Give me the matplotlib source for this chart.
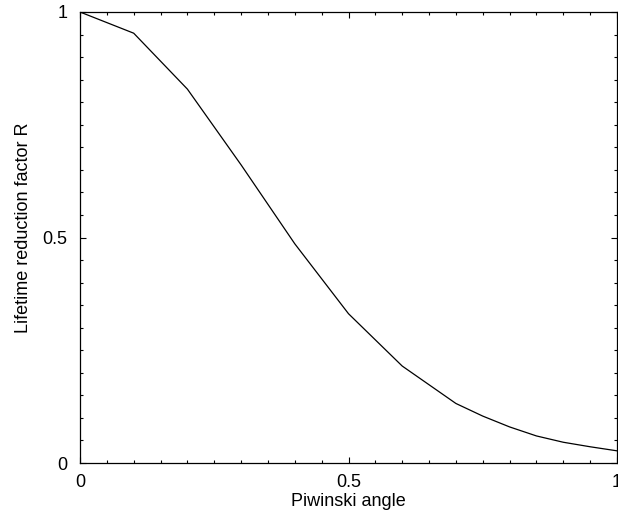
import matplotlib
matplotlib.use("Agg")
import matplotlib.pyplot as plt
from matplotlib.ticker import MultipleLocator

plt.rcParams['font.family'] = ['Liberation Sans', 'DejaVu Sans']

# Piwinski angle vs lifetime reduction factor R
angle = [0.0, 0.1, 0.2, 0.3, 0.4, 0.5, 0.6, 0.7, 0.75, 0.8, 0.85, 0.9, 0.95, 1.0]
reduction = [1.0, 0.953, 0.829, 0.661, 0.486, 0.331, 0.215, 0.132, 0.104,
             0.080, 0.060, 0.046, 0.036, 0.027]
tick_vals = [0, 0.5, 1]
tick_labels = ['0', '0.5', '1']

fig = plt.figure(figsize=(6.18, 5.25), dpi=100)
ax = fig.add_axes([80 / 618, 1 - 463 / 525, 537 / 618, 451 / 525])

ax.plot(angle, reduction, color='black', linewidth=0.9)

ax.set_xlim(0, 1)
ax.set_ylim(0, 1)
ax.set_xticks(tick_vals)
ax.set_yticks(tick_vals)
ax.set_xticklabels(tick_labels)
ax.set_yticklabels(tick_labels)
ax.xaxis.set_minor_locator(MultipleLocator(0.05))
ax.yaxis.set_minor_locator(MultipleLocator(0.05))

ax.tick_params(which='both', direction='in', top=True, right=True,
               labelsize=13, width=0.8)
ax.tick_params(which='major', length=4.5)
ax.tick_params(which='minor', length=2.3)
ax.tick_params(axis='x', which='major', pad=8)
ax.tick_params(axis='y', which='major', pad=9)
for s in ax.spines.values():
    s.set_linewidth(0.9)

ax.set_xlabel('Piwinski angle', fontsize=13)
ax.set_ylabel('Lifetime reduction factor R', fontsize=13)
ax.xaxis.set_label_coords(0.5, -0.066)
ax.yaxis.set_label_coords(-0.09, 0.521)

fig.savefig('out.png', dpi=100)
